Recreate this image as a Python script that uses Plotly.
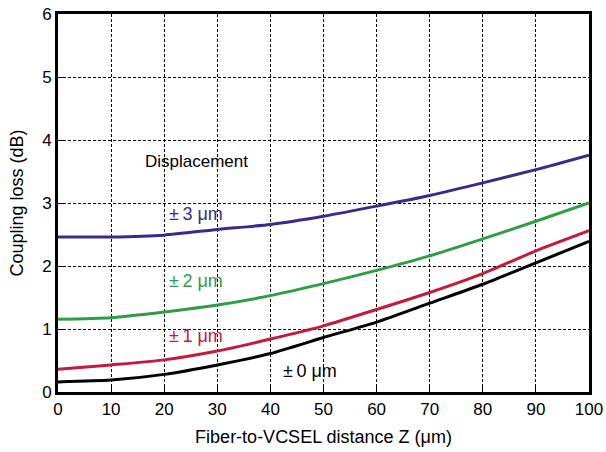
import plotly.graph_objects as go

z = [0, 10, 20, 30, 40, 50, 60, 70, 80, 90, 100]
loss_3um = [2.46, 2.46, 2.49, 2.58, 2.66, 2.79, 2.95, 3.12, 3.32, 3.53, 3.76]
loss_2um = [1.155, 1.18, 1.27, 1.38, 1.53, 1.72, 1.93, 2.16, 2.43, 2.71, 3.0]
loss_1um = [0.36, 0.43, 0.51, 0.65, 0.84, 1.05, 1.31, 1.58, 1.88, 2.24, 2.56]
loss_0um = [0.16, 0.19, 0.28, 0.43, 0.61, 0.865, 1.11, 1.41, 1.71, 2.05, 2.39]

series = [
    ("±\u20093 μm", loss_3um, "#3b2a8c"),
    ("±\u20092 μm", loss_2um, "#2e9e44"),
    ("±\u20091 μm", loss_1um, "#c41a3c"),
    ("±\u20090 μm", loss_0um, "#000000"),
]
label_pos = [(26, 2.82), (26, 1.76), (26, 0.89), (47.5, 0.33)]
FONT = "Liberation Sans, Arial"

fig = go.Figure()
for (name, vals, col), (lx, ly) in zip(series, label_pos):
    fig.add_trace(go.Scatter(x=z, y=vals, mode="lines", name=name,
                             line=dict(color=col, width=3, shape="spline", smoothing=0.6)))
    fig.add_annotation(x=lx, y=ly, text=name, showarrow=False,
                       font=dict(color=col, size=18, family=FONT))

fig.add_annotation(x=26, y=3.66, text="Displacement", showarrow=False,
                   font=dict(color="black", size=17, family=FONT))

axis_common = dict(
    showline=True, linecolor="black", linewidth=3, mirror=True,
    showgrid=True, gridcolor="black", gridwidth=1, griddash="3px,2px",
    ticks="inside", ticklen=7, tickwidth=1, tickcolor="black",
    zeroline=False, automargin=False,
    tickfont=dict(size=17, color="black", family=FONT),
)

fig.update_layout(
    width=606, height=452,
    margin=dict(l=58, r=17, t=14, b=60),
    paper_bgcolor="white", plot_bgcolor="white",
    showlegend=False,
    font=dict(family=FONT, color="black"),
    xaxis=dict(range=[0, 100], dtick=10,
               title=dict(text="Fiber-to-VCSEL distance Z (μm)", font=dict(size=18), standoff=12),
               **axis_common),
    yaxis=dict(range=[0, 6], dtick=1,
               title=dict(text="Coupling loss (dB)", font=dict(size=18), standoff=14),
               **axis_common),
)

fig.write_html("out.html")
